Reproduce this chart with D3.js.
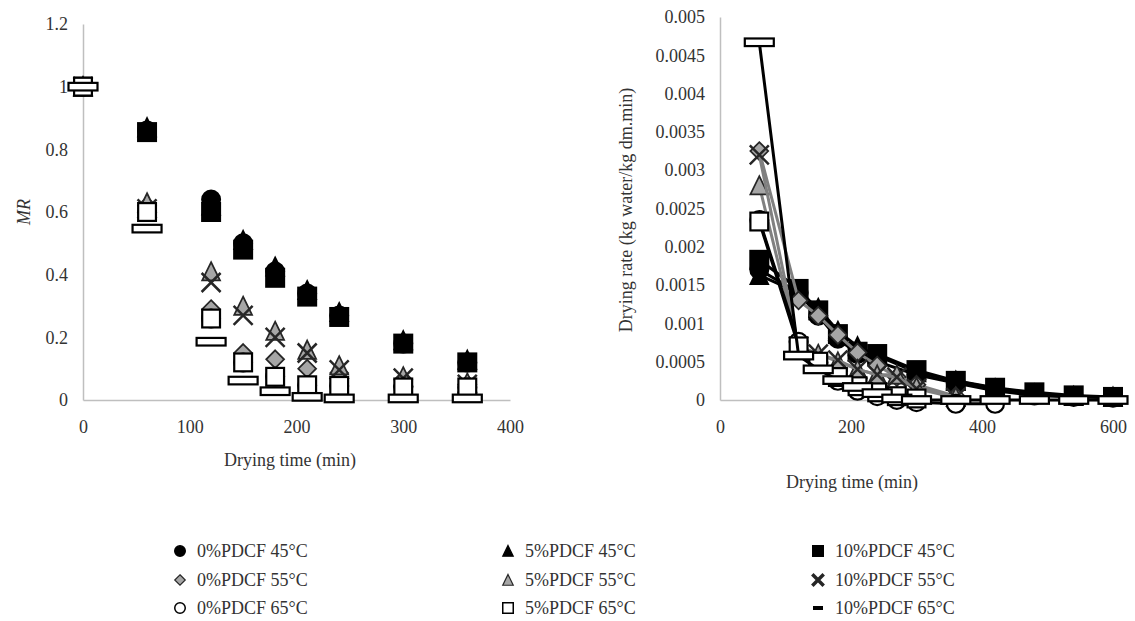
<!DOCTYPE html>
<html lang="en">
<head>
<meta charset="utf-8">
<script src="https://cdn.jsdelivr.net/npm/d3@7"></script>
<style>
	body { margin: 0; background: #fff; }
	text { font-family: "Liberation Serif", "DejaVu Serif", serif; fill: #333; }
	.tick text { font-size: 18px; }
	.axis path { stroke: #bfbfbf; stroke-width: 1.5px; }
</style>
<title>Drying curves</title>
</head>
<body>
<svg id="chart" width="1135" height="621"></svg>
<script>
	// series (same order as legend, drawn in this order)
	var seriesNames = ["0%PDCF 45°C", "5%PDCF 45°C", "10%PDCF 45°C",
		"0%PDCF 55°C", "5%PDCF 55°C", "10%PDCF 55°C",
		"0%PDCF 65°C", "5%PDCF 65°C", "10%PDCF 65°C"];
	var seriesShapes = ["circle", "triangle", "square", "diamond", "triangle", "cross", "circle", "square", "dash"];
	var seriesTemps = [45, 45, 45, 55, 55, 55, 65, 65, 65];

	// left chart: moisture ratio
	var mrTimes = [0, 60, 120, 150, 180, 210, 240, 300, 360];
	var mr0_45 = [1, 0.86, 0.64, 0.50, 0.41, 0.34, 0.27, 0.18, 0.12];
	var mr5_45 = [1, 0.87, 0.62, 0.51, 0.425, 0.35, 0.28, 0.19, 0.128];
	var mr10_45 = [1, 0.855, 0.60, 0.48, 0.39, 0.33, 0.265, 0.18, 0.12];
	var mr0_55 = [1, 0.62, 0.29, 0.15, 0.13, 0.10, 0.086, 0.065, 0.05];
	var mr5_55 = [1, 0.63, 0.41, 0.30, 0.22, 0.16, 0.11, 0.075, 0.055];
	var mr10_55 = [1, 0.61, 0.375, 0.27, 0.20, 0.15, 0.096, 0.07, 0.05];
	var mr0_65 = [1, 0.60, 0.26, 0.12, 0.075, 0.047, 0.045, 0.04, 0.04];
	var mr5_65 = [1, 0.60, 0.26, 0.12, 0.074, 0.047, 0.045, 0.04, 0.04];
	var mr10_65 = [1, 0.547, 0.186, 0.062, 0.028, 0.01, 0.005, 0.005, 0.005];
	var mrTicksX = [0, 100, 200, 300, 400];
	var mrTicksY = [0, 0.2, 0.4, 0.6, 0.8, 1, 1.2];

	// right chart: drying rate (null = no point)
	var rateTimes = [60, 120, 150, 180, 210, 240, 270, 300, 360, 420, 480, 540, 600];
	var dr0_45 = [0.0017, 0.0014, 0.0011, 0.0008, 0.0006, 0.0005, null, 0.00033, 0.00022, 0.00012, 0.00006, 0.00004, 0.00003];
	var dr5_45 = [0.00163, 0.0014, 0.0012, 0.0009, 0.0007, 0.00058, null, 0.00036, 0.00025, 0.00015, 0.00008, 0.00005, 0.00004];
	var dr10_45 = [0.00183, 0.00145, 0.00117, 0.00086, 0.00063, 0.0006, null, 0.00039, 0.00025, 0.00016, 0.0001, 0.00006, 0.00004];
	var dr0_55 = [0.00325, 0.0013, 0.0011, 0.00085, 0.00062, 0.00045, 0.0003, 0.0002, 0.00005, null, null, null, null];
	var dr5_55 = [0.0028, 0.0007, 0.0006, 0.0005, 0.0004, 0.00033, 0.00033, 0.00017, 0.00004, null, null, null, null];
	var dr10_55 = [0.0032, 0.0007, 0.0006, 0.00052, 0.0004, 0.00033, 0.0003, 0.00015, 0.00003, null, null, null, null];
	var dr0_65 = [0.00235, 0.00076, 0.0005, 0.00025, 0.00012, 0.00005, 0, -0.00003, -0.00005, -0.00005, null, null, null];
	var dr5_65 = [0.00233, 0.0007, 0.0005, 0.0003, 0.00018, 0.0001, 0.00005, 0.00002, null, null, null, null, null];
	var dr10_65 = [0.00467, 0.00058, 0.0004, 0.00026, 0.00017, 0.00009, 0.00002, 0, 0, 0, 0, 0, 0];
	var rateTicksX = [0, 200, 400, 600];
	var rateTicksY = [0, 0.0005, 0.001, 0.0015, 0.002, 0.0025, 0.003, 0.0035, 0.004, 0.0045, 0.005];

	var mrValues = [mr0_45, mr5_45, mr10_45, mr0_55, mr5_55, mr10_55, mr0_65, mr5_65, mr10_65];
	var rateValues = [dr0_45, dr5_45, dr10_45, dr0_55, dr5_55, dr10_55, dr0_65, dr5_65, dr10_65];

	var svg = d3.select("#chart");

	function fillFor(t) { return t == 45 ? "#000" : (t == 55 ? "#a6a6a6" : "#fff"); }
	function lineFor(t) { return t == 55 ? "#808080" : "#000"; }

	// draws one marker centred at (0,0), r = half size
	function drawMarker(g, shape, temp, r) {
		var fill = fillFor(temp);
		var sw = r > 7 ? 2.2 : 1.5;
		var stroke = temp == 55 ? "#262626" : "#000";
		if (shape == "circle") {
			g.append("circle").attr("r", r - sw / 2).attr("fill", fill).attr("stroke", stroke).attr("stroke-width", sw);
		} else if (shape == "square") {
			var s = r - sw / 2;
			g.append("rect").attr("x", -s).attr("y", -s).attr("width", 2 * s).attr("height", 2 * s)
				.attr("fill", fill).attr("stroke", stroke).attr("stroke-width", sw);
		} else if (shape == "triangle") {
			var s = r - sw / 2;
			g.append("path").attr("d", "M0," + (-s * 1.05) + "L" + s + "," + s + "L" + (-s) + "," + s + "Z")
				.attr("fill", fill).attr("stroke", stroke).attr("stroke-width", sw * 0.8);
		} else if (shape == "diamond") {
			var s = r - sw / 2;
			g.append("path").attr("d", "M0," + (-s) + "L" + s + ",0L0," + s + "L" + (-s) + ",0Z")
				.attr("fill", fill).attr("stroke", stroke).attr("stroke-width", sw * 0.8);
		} else if (shape == "cross") {
			var s = r * 0.95;
			g.append("path").attr("d", "M" + (-s) + "," + (-s) + "L" + s + "," + s + "M" + s + "," + (-s) + "L" + (-s) + "," + s)
				.attr("fill", "none").attr("stroke", "#262626").attr("stroke-width", r > 7 ? 2.5 : 3.5);
		} else if (shape == "dash") {
			var w = r * 1.45, h = r * 0.38;
			g.append("rect").attr("x", -w).attr("y", -h).attr("width", 2 * w).attr("height", 2 * h)
				.attr("fill", "#fff").attr("stroke", "#000").attr("stroke-width", sw);
		}
	}

	function axes(x, y, ticksX, ticksY, fmtY) {
		svg.append("g").attr("class", "axis")
			.attr("transform", "translate(0," + y.range()[0] + ")")
			.call(d3.axisBottom(x).tickValues(ticksX).tickSize(0).tickPadding(20).tickFormat(d3.format("d")))
			.selectAll("text").attr("font-family", null).attr("fill", null);
		svg.append("g").attr("class", "axis")
			.attr("transform", "translate(" + x.range()[0] + ",0)")
			.call(d3.axisLeft(y).tickValues(ticksY).tickSize(0).tickPadding(15).tickFormat(fmtY))
			.selectAll("text").attr("font-family", null).attr("fill", null);
	}

	// ---------- left chart ----------
	var x1 = d3.scaleLinear().domain([0, 400]).range([83, 510]);
	var y1 = d3.scaleLinear().domain([0, 1.2]).range([400, 24]);
	axes(x1, y1, mrTicksX, mrTicksY, function(d) { return String(+d.toFixed(1)); });

	mrValues.forEach(function(vals, i) {
		vals.forEach(function(v, j) {
			var g = svg.append("g").attr("transform", "translate(" + x1(mrTimes[j]) + "," + y1(v) + ")");
			drawMarker(g, seriesShapes[i], seriesTemps[i], 10);
		});
	});

	svg.append("text").attr("x", 290).attr("y", 466).attr("text-anchor", "middle")
		.style("font-size", "18px").text("Drying time (min)");
	svg.append("text").attr("transform", "translate(30,212) rotate(-90)").attr("text-anchor", "middle")
		.style("font-size", "18px").style("font-style", "italic").text("MR");

	// ---------- right chart ----------
	var x2 = d3.scaleLinear().domain([0, 600]).range([720, 1113]);
	var y2 = d3.scaleLinear().domain([0, 0.005]).range([400, 17]);
	axes(x2, y2, rateTicksX, rateTicksY, function(d) { return String(+d.toFixed(4)); });

	var line = d3.line()
		.x(function(d) { return x2(d.t); })
		.y(function(d) { return y2(d.v); });

	var ratePoints = rateValues.map(function(vals) {
		return vals.map(function(v, j) { return {t: rateTimes[j], v: v}; })
			.filter(function(d) { return d.v !== null; });
	});

	ratePoints.forEach(function(pts, i) {
		svg.append("path").attr("d", line(pts)).attr("fill", "none")
			.attr("stroke", lineFor(seriesTemps[i])).attr("stroke-width", 3);
		pts.forEach(function(d) {
			var g = svg.append("g").attr("transform", "translate(" + x2(d.t) + "," + y2(d.v) + ")");
			drawMarker(g, seriesShapes[i], seriesTemps[i], 10);
		});
	});

	svg.append("text").attr("x", 852).attr("y", 488).attr("text-anchor", "middle")
		.style("font-size", "18px").text("Drying time (min)");
	svg.append("text").attr("transform", "translate(632,210) rotate(-90)").attr("text-anchor", "middle")
		.style("font-size", "18px").text("Drying rate (kg water/kg dm.min)");

	// ---------- legend ----------
	var legendCols = [180, 508, 818];
	var legendRows = [551, 580, 608];
	seriesNames.forEach(function(name, i) {
		var cx = legendCols[i % 3], cy = legendRows[Math.floor(i / 3)];
		var g = svg.append("g").attr("transform", "translate(" + cx + "," + cy + ")");
		if (seriesShapes[i] == "dash") {
			g.append("rect").attr("x", -5).attr("y", -2).attr("width", 10).attr("height", 4).attr("fill", "#000");
		} else {
			drawMarker(g, seriesShapes[i], seriesTemps[i], 6);
		}
		svg.append("text").attr("x", cx + 17).attr("y", cy + 6).style("font-size", "18px").text(name);
	});
</script>
</body>
</html>
